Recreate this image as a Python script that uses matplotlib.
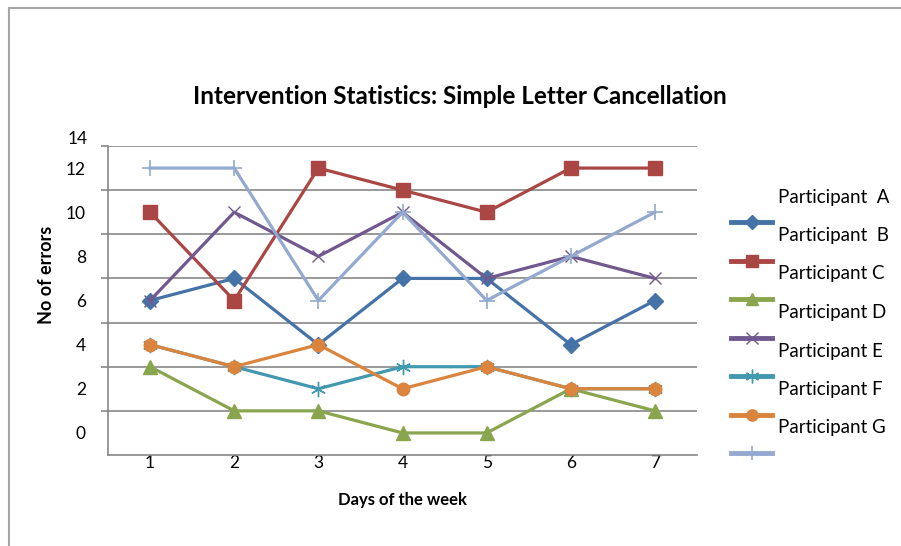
import matplotlib.pyplot as plt
from matplotlib.lines import Line2D

# data
days = [1, 2, 3, 4, 5, 6, 7]
part_a = [6, 7, 4, 7, 7, 4, 6]
part_b = [10, 6, 12, 11, 10, 12, 12]
part_c = [3, 1, 1, 0, 0, 2, 1]
part_d = [6, 10, 8, 10, 7, 8, 7]
part_e = [4, 3, 2, 3, 3, 2, 2]
part_f = [4, 3, 4, 2, 3, 2, 2]
part_g = [12, 12, 6, 10, 6, 8, 10]
legend_labels = ["Participant  A", "Participant  B", "Participant C", "Participant D",
                 "Participant E", "Participant F", "Participant G"]
y_labels = [0, 2, 4, 6, 8, 10, 12]

plt.rcParams['font.family'] = ['Lato', 'DejaVu Sans']

fig = plt.figure(figsize=(9.01, 5.46), dpi=100)
ax = fig.add_axes([108/901, 1-455/546, (697-108)/901, (455-146)/546])

# outer chart border
fig.add_artist(Line2D([9/901, 9/901], [0, 1-8/546], color='#a6a6a6', lw=1.5))
fig.add_artist(Line2D([9/901, 1], [1-8/546, 1-8/546], color='#a6a6a6', lw=1.5))

series = [part_a, part_b, part_c, part_d, part_e, part_f, part_g]
styles = [
    dict(color='#4572A7', marker='D', ms=8),
    dict(color='#AA4643', marker='s', ms=10),
    dict(color='#89A54E', marker='^', ms=10),
    dict(color='#71588F', marker='x', ms=9, mew=1),
    dict(color='#4198AF', marker=(6, 2, 0), ms=11, mew=1),
    dict(color='#DB843D', marker='o', ms=9),
    dict(color='#93A9CF', marker='+', ms=11, mew=1.2),
]
lines = []
for vals, st in zip(series, styles):
    ln, = ax.plot(days, vals, lw=2.3, zorder=3, **st)
    lines.append(ln)

ax.set_xlim(0.5, 7.5)
ax.set_ylim(-1, 13)
ax.set_xticks(days)
ax.tick_params(axis='x', length=0, pad=0, labelsize=12.5)
# gridlines sit between the labelled values
ax.set_yticks([1, 3, 5, 7, 9, 11, 13])
ax.set_yticklabels([])
ax.set_yticks(y_labels, minor=True)
ax.set_yticklabels([str(v) for v in y_labels], minor=True)
ax.tick_params(axis='y', which='major', length=5, color='#888888', width=1.2)
ax.tick_params(axis='y', which='minor', length=0, pad=16, labelsize=12.5)
ax.text(-0.034, 13.3, "14", transform=ax.get_yaxis_transform(), ha='right', va='center', fontsize=12.5)
ax.grid(axis='y', which='major', color='#888888', lw=1.2, zorder=0)
for s in ['top', 'right']:
    ax.spines[s].set_visible(False)
for s in ['left', 'bottom']:
    ax.spines[s].set_color('#888888')
    ax.spines[s].set_linewidth(1.2)

ax.set_xlabel("Days of the week", fontsize=12, fontweight='bold')
ax.xaxis.set_label_coords(0.5, -37/309)
ax.set_ylabel("No of errors", fontsize=13, fontweight='bold')
ax.yaxis.set_label_coords(-53/589, 0.583)
fig.text(460/901, 1-97/546, "Intervention Statistics: Simple Letter Cancellation",
         ha='center', va='center', fontsize=17.5, fontweight='bold')

# legend: labels sit above their handles, as in the reference
for i, (ln, lab) in enumerate(zip(lines, legend_labels)):
    hy = 1 - (222 + i*38.5)/546
    ty = 1 - (197 + i*38.5)/546
    fig.add_artist(Line2D([731/901, 751.5/901, 772/901], [hy, hy, hy], color=ln.get_color(), lw=3.5,
                          marker=ln.get_marker(), markevery=[1], ms=ln.get_markersize()*0.9,
                          mew=ln.get_markeredgewidth()))
    fig.text(778/901, ty, lab, ha='left', va='center', fontsize=13.5)

fig.savefig("out.png", dpi=100)
